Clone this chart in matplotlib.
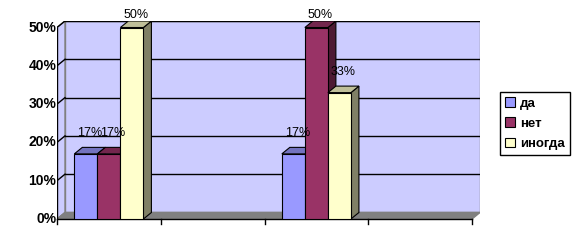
import numpy as np
import matplotlib
matplotlib.use("Agg")
import matplotlib.pyplot as plt
from matplotlib.patches import Polygon, Rectangle, Patch

# ---- data ----
categories = ["1", "2", "3", "4"]
series_names = ["да", "нет", "иногда"]
da = [0.17, np.nan, 0.17, np.nan]
net = [0.17, np.nan, 0.50, np.nan]
inogda = [0.50, np.nan, 0.33, np.nan]
value_labels = {"да": ["17%", "", "17%", ""],
                "нет": ["17%", "", "50%", ""],
                "иногда": ["50%", "", "33%", ""]}
y_ticks = [0.0, 0.1, 0.2, 0.3, 0.4, 0.5]
y_tick_labels = ["0%", "10%", "20%", "30%", "40%", "50%"]

series = [da, net, inogda]
front_colors = ["#9999FF", "#993366", "#FFFFCC"]
top_colors = ["#7373BF", "#73264D", "#BFBF99"]
side_colors = ["#4D4D80", "#4D1A33", "#808066"]

plt.rcParams["font.family"] = ["Liberation Sans", "DejaVu Sans"]

fig = plt.figure(figsize=(5.77, 2.47), dpi=100)
W, H = 577, 247
x0, x1, yb, yt = 57, 480, 219, 21
ax = fig.add_axes([x0 / W, 1 - yb / H, (x1 - x0) / W, (yb - yt) / H])

n_cat = len(categories)
dx = 0.077       # depth in category units
dy = 0.017       # depth in value units
ymax = 0.5
ax.set_xlim(0.5, n_cat + 0.5 + dx)
ax.set_ylim(0, ymax + dy)
ax.axis("off")
px_per_val = (yb - yt) / (ymax + dy)

wall = "#CCCCFF"
edge_gray = "#808080"
# back wall
ax.add_patch(Rectangle((0.5 + dx, dy), n_cat, ymax, facecolor=wall,
                       edgecolor=edge_gray, lw=1, zorder=1))
# left side wall
ax.add_patch(Polygon([(0.5, 0), (0.5 + dx, dy), (0.5 + dx, ymax + dy), (0.5, ymax)],
                     closed=True, facecolor=wall, edgecolor=edge_gray, lw=1, zorder=1))
# floor
ax.add_patch(Polygon([(0.5, 0), (n_cat + 0.5, 0), (n_cat + 0.5 + dx, dy), (0.5 + dx, dy)],
                     closed=True, facecolor="#808080", edgecolor="#808080", lw=1, zorder=2))
# gridlines
for v in y_ticks[1:]:
    ax.plot([0.5 + dx, n_cat + 0.5 + dx], [v + dy, v + dy], color="black", lw=1, zorder=2)
    ax.plot([0.5, 0.5 + dx], [v, v + dy], color="black", lw=1, zorder=2)

# axes lines
ax.plot([0.5, 0.5], [0, ymax], color="black", lw=1, zorder=3)
ax.plot([0.5, n_cat + 0.5], [0, 0], color="black", lw=1, zorder=3, clip_on=False)
for b in np.arange(0.5, n_cat + 1, 1.0):
    ax.plot([b, b], [0, -0.012], color="black", lw=1, clip_on=False, zorder=3)
for v, lab in zip(y_ticks, y_tick_labels):
    ax.text(0.5 - 0.005, v, lab, ha="right", va="center", fontsize=10,
            fontweight="bold", color="black")

# bars
bw = 0.222
n_s = len(series)
z = 5
for ci in range(n_cat):
    for si, vals in enumerate(series):
        h = vals[ci]
        if np.isnan(h):
            continue
        left = (ci + 1) - n_s * bw / 2 + si * bw
        right = left + bw
        side = Polygon([(right, 0), (right + dx, dy), (right + dx, h + dy), (right, h)],
                       closed=True, facecolor=side_colors[si], edgecolor="black", lw=0.8, zorder=z)
        top = Polygon([(left, h), (right, h), (right + dx, h + dy), (left + dx, h + dy)],
                      closed=True, facecolor=top_colors[si], edgecolor="black", lw=0.8, zorder=z)
        front = Rectangle((left, 0), bw, h, facecolor=front_colors[si],
                          edgecolor="black", lw=0.8, zorder=z + 0.5)
        ax.add_patch(side)
        ax.add_patch(top)
        ax.add_patch(front)
        z += 1
        ly = min(h + dy + 14 / px_per_val, ymax + dy + 5.5 / px_per_val)
        ax.text(left + bw / 2 + dx / 2, ly, value_labels[series_names[si]][ci],
                ha="center", va="center", fontsize=9, color="black", zorder=50, clip_on=False)

handles = [Patch(facecolor=c, edgecolor="black", lw=0.8) for c in front_colors]
leg = fig.legend(handles, series_names, loc="upper left",
                 bbox_to_anchor=(500 / W, 1 - 92 / H), prop={"weight": "bold", "size": 9.5},
                 frameon=True, fancybox=False, edgecolor="black", framealpha=1,
                 handlelength=0.7, handleheight=0.7, handletextpad=0.4,
                 labelspacing=0.6, borderpad=0.4, borderaxespad=0)
leg.get_frame().set_linewidth(1.0)

fig.savefig("out.png", dpi=100)
